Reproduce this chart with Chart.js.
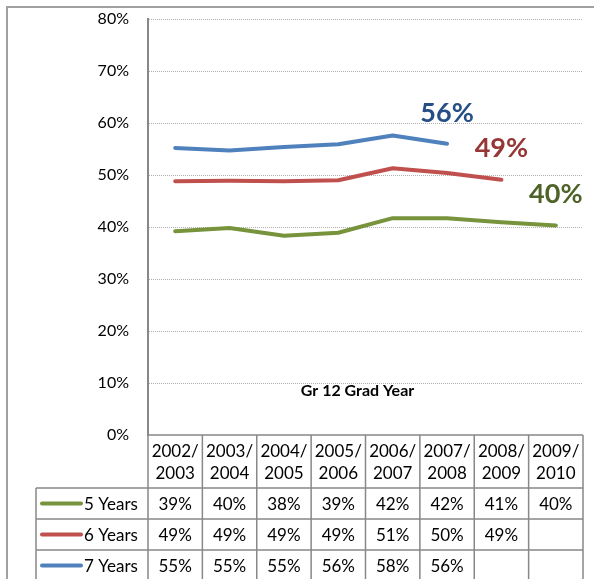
<!DOCTYPE html>
<html>
<head>
<meta charset="utf-8">
<script src="https://cdn.jsdelivr.net/npm/chart.js@4.4.1/dist/chart.umd.min.js"></script>
<style>
  html, body { margin: 0; padding: 0; background: #fff; }
  #wrap { width: 594px; height: 579px; }
</style>
</head>
<body>
<div id="wrap"><canvas id="chart" width="594" height="579"></canvas></div>
<script>
// school years on the x axis, two lines each in the table header
const gradYears = [
  ["2002/", "2003"], ["2003/", "2004"], ["2004/", "2005"], ["2005/", "2006"],
  ["2006/", "2007"], ["2007/", "2008"], ["2008/", "2009"], ["2009/", "2010"],
];
const seriesNames = ["5 Years", "6 Years", "7 Years"];

// line values
const fiveYears = [39.2, 39.8, 38.3, 38.9, 41.7, 41.7, 40.9, 40.3];
const sixYears = [48.8, 48.9, 48.8, 49.0, 51.3, 50.4, 49.1, null];
const sevenYears = [55.2, 54.7, 55.4, 55.9, 57.6, 56.0, null, null];

// rounded values shown in the data table
const fiveLabels = ["39%", "40%", "38%", "39%", "42%", "42%", "41%", "40%"];
const sixLabels = ["49%", "49%", "49%", "49%", "51%", "50%", "49%", ""];
const sevenLabels = ["55%", "55%", "55%", "56%", "58%", "56%", "", ""];

const yTicks = [0, 10, 20, 30, 40, 50, 60, 70, 80];
const axisTitle = "Gr 12 Grad Year";

const lineColors = ["#77933C", "#C0504D", "#4F81BD"];
const calloutColors = ["#4F6228", "#953735", "#254F86"];
const tableLabels = [fiveLabels, sixLabels, sevenLabels];

const FONT = "Lato, 'Open Sans', sans-serif";
const GRID = "#888888";

const tablePlugin = {
  id: "dataTable",
  afterDraw(chart) {
    const { ctx, chartArea } = chart;
    const x = chart.scales.x;
    const n = gradYears.length;
    const edges = [];
    for (let i = 0; i <= n; i++) edges.push(x.getPixelForValue(i - 0.5));

    const top = chartArea.bottom;
    const headerBottom = top + 53;
    const rowH = 31;
    const legendLeft = 36;
    const tableBottom = headerBottom + rowH * seriesNames.length;

    ctx.save();
    ctx.strokeStyle = GRID;
    ctx.lineWidth = 1.5;
    ctx.beginPath();
    // top line (x axis)
    ctx.moveTo(edges[0], top);
    ctx.lineTo(edges[n], top);
    // row lines
    for (let r = 0; r <= seriesNames.length; r++) {
      const y = headerBottom + r * rowH;
      ctx.moveTo(legendLeft, y);
      ctx.lineTo(edges[n], y);
    }
    // column lines
    edges.forEach((e) => {
      ctx.moveTo(e, top);
      ctx.lineTo(e, tableBottom);
    });
    ctx.moveTo(legendLeft, headerBottom);
    ctx.lineTo(legendLeft, tableBottom);
    ctx.stroke();

    ctx.fillStyle = "#000";
    ctx.font = "17px " + FONT;
    ctx.textAlign = "center";
    ctx.textBaseline = "middle";
    gradYears.forEach((lines, i) => {
      const cx = (edges[i] + edges[i + 1]) / 2;
      ctx.fillText(lines[0], cx, top + 17);
      ctx.fillText(lines[1], cx, top + 39);
    });

    seriesNames.forEach((name, r) => {
      const cy = headerBottom + r * rowH + rowH / 2;
      ctx.strokeStyle = lineColors[r];
      ctx.lineWidth = 4;
      ctx.lineCap = "round";
      ctx.beginPath();
      ctx.moveTo(42, cy);
      ctx.lineTo(81, cy);
      ctx.stroke();
      ctx.textAlign = "left";
      ctx.fillText(name, 84, cy + 1);
      ctx.textAlign = "center";
      tableLabels[r].forEach((t, i) => {
        ctx.fillText(t, (edges[i] + edges[i + 1]) / 2, cy + 1);
      });
    });

    // axis title inside the plot
    ctx.font = "bold 16px " + FONT;
    ctx.fillText(axisTitle, (chartArea.left + chartArea.right) / 2 - 8, chartArea.bottom - 44);

    // outer frame
    ctx.strokeStyle = "#a0a0a0";
    ctx.lineWidth = 2;
    ctx.lineCap = "butt";
    ctx.beginPath();
    ctx.moveTo(7, chart.height);
    ctx.lineTo(7, 7);
    ctx.lineTo(chart.width, 7);
    ctx.stroke();
    ctx.restore();
  },
  afterDatasetsDraw(chart) {
    const { ctx } = chart;
    ctx.save();
    ctx.font = "bold 27px " + FONT;
    ctx.textAlign = "center";
    ctx.textBaseline = "middle";
    chart.data.datasets.forEach((ds, d) => {
      let last = ds.data.length - 1;
      while (last > 0 && ds.data[last] === null) last--;
      const pt = chart.getDatasetMeta(d).data[last];
      const labels = tableLabels[d].filter((t) => t !== "");
      ctx.fillStyle = calloutColors[d];
      ctx.fillText(labels[labels.length - 1], pt.x, pt.y - 31);
    });
    ctx.restore();
  },
};

const ctx = document.getElementById("chart").getContext("2d");
new Chart(ctx, {
  type: "line",
  data: {
    labels: gradYears.map((l) => l.join("")),
    datasets: [fiveYears, sixYears, sevenYears].map((data, i) => ({
      label: seriesNames[i],
      data,
      borderColor: lineColors[i],
      backgroundColor: lineColors[i],
      borderWidth: 4,
      borderCapStyle: "round",
      borderJoinStyle: "round",
      pointRadius: 0,
      tension: 0,
      fill: false,
    })),
  },
  options: {
    responsive: false,
    animation: false,
    events: [],
    layout: { padding: { left: 0, right: 11, top: 19, bottom: 144 } },
    plugins: { legend: { display: false }, tooltip: { enabled: false } },
    scales: {
      x: { display: false, offset: true },
      y: {
        min: yTicks[0],
        max: yTicks[yTicks.length - 1],
        afterBuildTicks: (scale) => {
          scale.ticks = yTicks.map((v) => ({ value: v }));
        },
        afterFit: (scale) => {
          scale.width = 148;
          scale.paddingTop = 0;
          scale.paddingBottom = 0;
        },
        ticks: {
          callback: (v) => v + "%",
          color: "#000",
          padding: 19,
          font: { family: FONT, size: 16 },
        },
        grid: {
          drawTicks: false,
          color: (c) => (c.tick && c.tick.value === 0 ? "rgba(0,0,0,0)" : "#b0b0b0"),
          lineWidth: 1,
        },
        border: { display: true, color: GRID, width: 2, dash: [1, 1] },
      },
    },
  },
  plugins: [tablePlugin],
});
</script>
</body>
</html>
